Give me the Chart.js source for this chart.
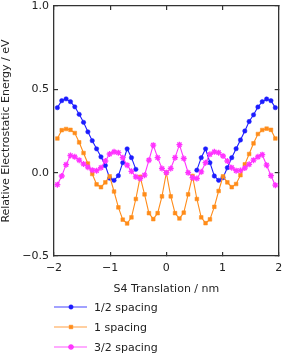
<!DOCTYPE html>
<html>
<head>
<meta charset="utf-8">
<script src="https://cdn.jsdelivr.net/npm/chart.js"></script>
<style>
  html, body { margin: 0; padding: 0; background: #fff; }
  #wrap { width: 283px; height: 354px; }
</style>
</head>
<body>
<div id="wrap"><canvas id="chart" width="283" height="354"></canvas></div>
<script>
// S4 translation (nm) for every sample
const translation = [
  -1.940, -1.862, -1.785, -1.707, -1.630, -1.552, -1.474, -1.397, -1.319, -1.242,
  -1.164, -1.086, -1.009, -0.931, -0.854, -0.776, -0.698, -0.621, -0.543, -0.466,
  -0.388, -0.310, -0.233, -0.155, -0.078, 0.000, 0.078, 0.155, 0.233, 0.310,
  0.388, 0.466, 0.543, 0.621, 0.698, 0.776, 0.854, 0.931, 1.009, 1.086,
  1.164, 1.242, 1.319, 1.397, 1.474, 1.552, 1.630, 1.707, 1.785, 1.862, 1.940
];

// relative electrostatic energy (eV)
const halfSpacing = [
  0.39, 0.432, 0.443, 0.426, 0.395, 0.35, 0.302, 0.245, 0.192, 0.143,
  0.095, 0.043, -0.033, -0.046, -0.018, 0.06, 0.143, 0.09, 0.02, null,
  null, null, null, null, null, null, null, null, null, null,
  null, null, 0.015, 0.09, 0.143, 0.06, -0.02, -0.046, -0.03, 0.03,
  0.09, 0.144, 0.196, 0.25, 0.307, 0.347, 0.394, 0.426, 0.442, 0.432, 0.39
];
const oneSpacing = [
  0.205, 0.255, 0.262, 0.257, 0.238, 0.182, 0.118, 0.055, -0.008, -0.07,
  -0.087, -0.058, -0.022, -0.113, -0.208, -0.282, -0.305, -0.268, -0.158, -0.025,
  -0.13, -0.243, -0.279, -0.243, -0.142, 0.0, -0.142, -0.243, -0.275, -0.24,
  -0.13, -0.02, -0.158, -0.268, -0.303, -0.28, -0.205, -0.11, -0.022, -0.058,
  -0.087, -0.068, -0.015, 0.05, 0.112, 0.176, 0.232, 0.256, 0.264, 0.257, 0.205
];
const threeHalfSpacing = [
  -0.072, -0.02, 0.048, 0.103, 0.095, 0.075, 0.052, 0.033, 0.015, 0.012,
  0.03, 0.07, 0.112, 0.125, 0.12, 0.09, 0.045, 0.008, -0.025, -0.035,
  -0.015, 0.075, 0.165, 0.09, 0.025, 0.0, 0.025, 0.09, 0.168, 0.085,
  0.0, -0.03, -0.035, 0.005, 0.06, 0.11, 0.125, 0.12, 0.1, 0.07,
  0.03, 0.012, 0.013, 0.028, 0.05, 0.075, 0.095, 0.108, 0.045, -0.018, -0.075
];

const seriesNames = ["1/2 spacing", "1 spacing", "3/2 spacing"];
const xTicks = [-2, -1, 0, 1, 2];
const yTicks = [-0.5, 0.0, 0.5, 1.0];

const FONT = "'DejaVu Sans', sans-serif";
const INK = "#222";
const FRAME = "#333";

function minus(s) {
    return String(s).replace("-", "\u2212");
}

function pairs(ys) {
    return translation.map((x, i) => ({ x: x, y: ys[i] }));
}

// legend stacked below the axis, left aligned with the plot
function drawLegend(chart) {
    const ctx = chart.ctx;
    const left = chart.chartArea.left;
    ctx.save();
    ctx.font = "11px " + FONT;
    ctx.textBaseline = "middle";
    chart.data.datasets.forEach((ds, k) => {
        const y = 307 + 20 * k;
        ctx.globalAlpha = 0.55;
        ctx.strokeStyle = ds.borderColor;
        ctx.lineWidth = 1.5;
        ctx.beginPath();
        ctx.moveTo(left, y);
        ctx.lineTo(left + 33, y);
        ctx.stroke();
        ctx.globalAlpha = 1;
        ctx.fillStyle = ds.pointBackgroundColor;
        ctx.strokeStyle = ds.pointBorderColor;
        ctx.lineWidth = ds.pointBorderWidth;
        Chart.helpers.drawPoint(ctx, {
            pointStyle: ds.pointStyle,
            radius: ds.pointRadius,
            borderWidth: ds.pointBorderWidth,
            rotation: 0
        }, left + 17, y);
        ctx.fillStyle = INK;
        ctx.fillText(ds.label, left + 40, y + 1);
    });
    ctx.restore();
}

const legendPlugin = {
    id: "stackedLegend",
    afterDraw(chart) {
        drawLegend(chart);
    }
};

// box edges: each side is a scale border, ticks point inward (negative length)
const frameGrid = {
    display: true,
    drawOnChartArea: false,
    drawTicks: true,
    tickLength: -4,
    color: FRAME,
    lineWidth: 1.2
};
const frameBorder = { display: true, color: FRAME, width: 1.3 };

function sideScale(pos, lo, hi, ticks) {
    return {
        type: "linear",
        position: pos,
        min: lo,
        max: hi,
        afterBuildTicks: s => { s.ticks = ticks.map(v => ({ value: v })); },
        afterFit: s => {
            if (pos === "top") s.height = 0; else s.width = 0;
            s.paddingTop = 0;
            s.paddingBottom = 0;
            s.paddingLeft = 0;
            s.paddingRight = 0;
        },
        grid: frameGrid,
        border: frameBorder,
        ticks: { display: false },
        title: { display: false }
    };
}

const datasets = [
    {
        label: seriesNames[0],
        data: pairs(halfSpacing),
        borderColor: "#1c1cff",
        pointBackgroundColor: "#1c1cff",
        pointBorderColor: "#1c1cff",
        pointStyle: "circle",
        pointRadius: 2.2,
        pointBorderWidth: 0.5,
        order: 3
    },
    {
        label: seriesNames[1],
        data: pairs(oneSpacing),
        borderColor: "#ff8c1a",
        pointBackgroundColor: "#ff8c1a",
        pointBorderColor: "#ff8c1a",
        pointStyle: "rect",
        pointRadius: 2.6,
        pointBorderWidth: 0.5,
        order: 2
    },
    {
        label: seriesNames[2],
        data: pairs(threeHalfSpacing),
        borderColor: "#ff33ff",
        pointBackgroundColor: "#ff33ff",
        pointBorderColor: "#ff33ff",
        pointStyle: "star",
        pointRadius: 3,
        pointBorderWidth: 1.3,
        order: 1
    }
];
datasets.forEach(ds => {
    ds.borderWidth = 1.1;
    ds.showLine = true;
    ds.tension = 0;
    ds.spanGaps = false;
    ds.pointHoverRadius = ds.pointRadius;
});

new Chart(document.getElementById("chart"), {
    type: "line",
    data: { datasets: datasets },
    options: {
        responsive: false,
        animation: false,
        devicePixelRatio: 1,
        layout: { padding: { top: 6, right: 4, bottom: 58, left: 0 } },
        plugins: {
            legend: { display: false },
            tooltip: { enabled: false }
        },
        scales: {
            x: {
                type: "linear",
                position: "bottom",
                min: -2,
                max: 2,
                afterBuildTicks: s => { s.ticks = xTicks.map(v => ({ value: v })); },
                afterFit: s => {
                    s.height = 40;
                    s.paddingLeft = 0;
                    s.paddingRight = 0;
                },
                grid: frameGrid,
                border: frameBorder,
                ticks: {
                    padding: 10,
                    color: INK,
                    font: { family: FONT, size: 11 },
                    callback: v => minus(v)
                },
                title: {
                    display: true,
                    text: "S4 Translation / nm",
                    color: INK,
                    font: { family: FONT, size: 11 },
                    padding: { top: 2, bottom: 0 }
                }
            },
            y: {
                type: "linear",
                position: "left",
                min: -0.5,
                max: 1.0,
                afterBuildTicks: s => { s.ticks = yTicks.map(v => ({ value: v })); },
                afterFit: s => {
                    s.width = 54;
                    s.paddingTop = 0;
                    s.paddingBottom = 0;
                },
                grid: frameGrid,
                border: frameBorder,
                ticks: {
                    padding: 9,
                    color: INK,
                    font: { family: FONT, size: 11 },
                    callback: v => minus(Number(v).toFixed(1))
                },
                title: {
                    display: true,
                    text: "Relative Electrostatic Energy / eV",
                    color: INK,
                    font: { family: FONT, size: 11 },
                    padding: { top: 0, bottom: 2 }
                }
            },
            xTop: sideScale("top", -2, 2, xTicks),
            yRight: sideScale("right", -0.5, 1.0, yTicks)
        }
    },
    plugins: [legendPlugin]
});
</script>
</body>
</html>
